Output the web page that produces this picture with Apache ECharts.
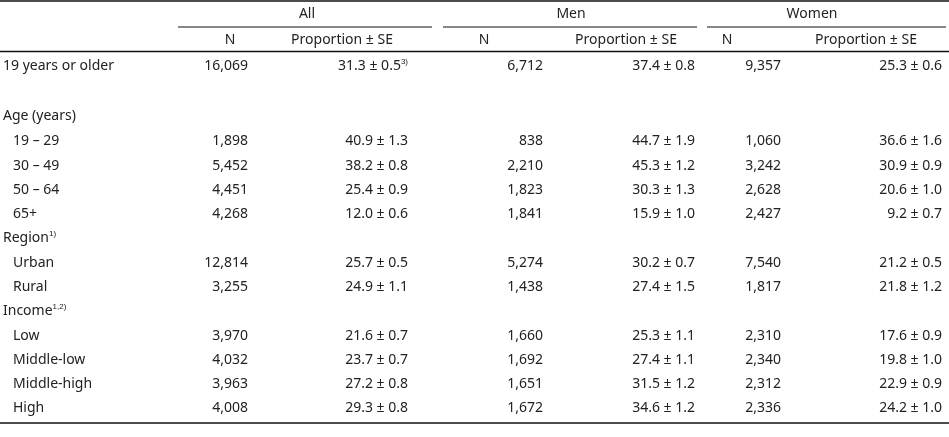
<!DOCTYPE html>
<html lang="en">
<head>
<meta charset="UTF-8">
<script src="https://cdn.jsdelivr.net/npm/echarts@6/dist/echarts.min.js"></script>
<style>
  html, body {margin:0; padding:0; background:#fff;}
  #main {width:949px; height:437px;}
</style>
</head>
<body>
<div id="main"></div>
<script>
// table contents
const groups = ['All', 'Men', 'Women'];
const subHeads = ['N', 'Proportion ± SE'];
const rowLabels = ['19 years or older', '', 'Age (years)', '19 – 29', '30 – 49', '50 – 64', '65+',
  'Region', 'Urban', 'Rural', 'Income', 'Low', 'Middle-low', 'Middle-high', 'High'];
const rowSup = {7: '1)', 10: '1,2)'};
const indented = [3, 4, 5, 6, 8, 9, 11, 12, 13, 14];
const allN = ['16,069', '', '', '1,898', '5,452', '4,451', '4,268', '', '12,814', '3,255', '', '3,970', '4,032', '3,963', '4,008'];
const allP = ['31.3 ± 0.5', '', '', '40.9 ± 1.3', '38.2 ± 0.8', '25.4 ± 0.9', '12.0 ± 0.6', '', '25.7 ± 0.5', '24.9 ± 1.1', '', '21.6 ± 0.7', '23.7 ± 0.7', '27.2 ± 0.8', '29.3 ± 0.8'];
const menN = ['6,712', '', '', '838', '2,210', '1,823', '1,841', '', '5,274', '1,438', '', '1,660', '1,692', '1,651', '1,672'];
const menP = ['37.4 ± 0.8', '', '', '44.7 ± 1.9', '45.3 ± 1.2', '30.3 ± 1.3', '15.9 ± 1.0', '', '30.2 ± 0.7', '27.4 ± 1.5', '', '25.3 ± 1.1', '27.4 ± 1.1', '31.5 ± 1.2', '34.6 ± 1.2'];
const womenN = ['9,357', '', '', '1,060', '3,242', '2,628', '2,427', '', '7,540', '1,817', '', '2,310', '2,340', '2,312', '2,336'];
const womenP = ['25.3 ± 0.6', '', '', '36.6 ± 1.6', '30.9 ± 0.9', '20.6 ± 1.0', '9.2 ± 0.7', '', '21.2 ± 0.5', '21.8 ± 1.2', '', '17.6 ± 0.9', '19.8 ± 1.0', '22.9 ± 0.9', '24.2 ± 1.0'];

const chart = echarts.init(document.getElementById('main'));
const font = '14px "Noto Sans", sans-serif';
const col = '#222';
const els = [];
function txt(x, y, s, align, rich) {
  els.push({type: 'text', x: x, y: y, style: {text: s, font: font, fill: col, align: align, verticalAlign: 'middle', rich: rich}});
}
function line(x1, y1, x2, y2, w) {
  els.push({type: 'line', shape: {x1: x1, y1: y1, x2: x2, y2: y2}, style: {stroke: '#111', lineWidth: w}});
}
const supRich = {s: {fontSize: 8, fill: col, verticalAlign: 'top', padding: [0, 0, 8, 0]}};
line(0, 1, 949, 1, 1.5);
line(0, 51.5, 949, 51.5, 1.5);
line(0, 423, 949, 423, 1.5);
const grpSpan = [[178, 432], [443, 697], [707, 946]];
const grpCenter = [307, 571, 812];
const subCenter = [[230, 342], [484, 626], [727, 866]];
const valRight = [[248, 408], [543, 695], [781, 942]];
groups.forEach((g, i) => {
  txt(grpCenter[i], 14, g, 'center');
  line(grpSpan[i][0], 27, grpSpan[i][1], 27, 1);
  txt(subCenter[i][0], 40, subHeads[0], 'center');
  txt(subCenter[i][1], 40, subHeads[1], 'center');
});
const rowY = [66, 91, 116, 141, 166, 190, 214, 238, 263, 287, 311, 336, 360, 384, 408];
const cols = [[allN, allP], [menN, menP], [womenN, womenP]];
rowLabels.forEach((lab, r) => {
  const y = rowY[r];
  const x = indented.includes(r) ? 13 : 3;
  if (rowSup[r]) txt(x, y, lab + '{s|' + rowSup[r] + '}', 'left', supRich);
  else if (lab) txt(x, y, lab, 'left');
  cols.forEach((pair, g) => {
    if (pair[0][r]) txt(valRight[g][0], y, pair[0][r], 'right');
    if (pair[1][r]) {
      if (r === 0 && g === 0) txt(valRight[g][1], y, pair[1][r] + '{s|3)}', 'right', supRich);
      else txt(valRight[g][1], y, pair[1][r], 'right');
    }
  });
});
chart.setOption({graphic: els});
</script>
</body>
</html>
